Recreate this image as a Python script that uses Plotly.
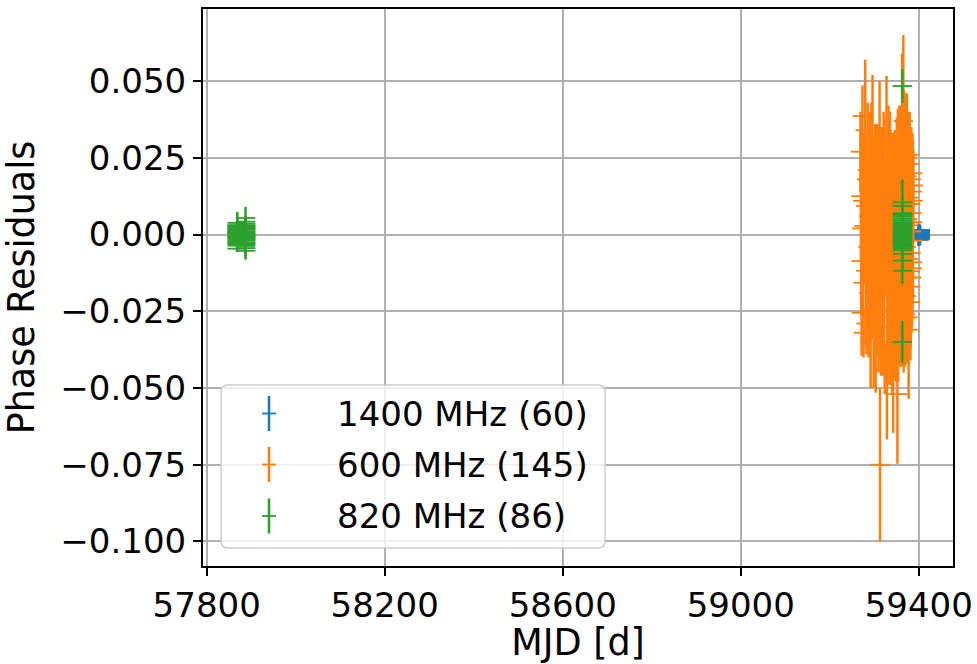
import plotly.graph_objects as go

# ---------------------------------------------------------------------------
# Timing residuals (phase) per observing band
# ---------------------------------------------------------------------------

# 1400 MHz TOAs
blue_mjd = [
    59399.4, 59399.4, 59399.4, 59399.4, 59399.4, 59399.4, 59399.4, 59399.4, 59399.4, 59399.4,
    59400.1, 59400.1, 59400.1, 59400.1, 59400.1, 59400.1, 59400.1, 59400.1, 59400.1, 59400.1,
    59400.8, 59400.8, 59400.8, 59400.8, 59400.8, 59400.8, 59400.8, 59400.8, 59400.8, 59400.8,
    59401.5, 59401.5, 59401.5, 59401.5, 59401.5, 59401.5, 59401.5, 59401.5, 59401.5, 59401.5,
    59402.2, 59402.2, 59402.2, 59402.2, 59402.2, 59402.2, 59402.2, 59402.2, 59402.2, 59402.2,
    59402.9, 59402.9, 59402.9, 59402.9, 59402.9, 59402.9, 59402.9, 59402.9, 59402.9, 59402.9,
]
blue_res = [
    0.0012, -0.0004, 0.0007, -0.0013, 0.0002, -0.0008, 0.0015, -0.0001, 0.0005, -0.0017,
    -0.0006, 0.0010, -0.0011, 0.0003, 0.0013, -0.0015, 0.0000, 0.0008, -0.0003, 0.0006,
    0.0004, -0.0009, 0.0011, -0.0002, -0.0014, 0.0009, 0.0001, -0.0007, 0.0014, -0.0005,
    -0.0012, 0.0006, -0.0001, 0.0013, -0.0008, 0.0002, -0.0016, 0.0010, -0.0004, 0.0007,
    0.0009, -0.0003, -0.0013, 0.0005, 0.0015, -0.0010, 0.0003, -0.0006, 0.0011, -0.0002,
    -0.0007, 0.0012, 0.0000, -0.0011, 0.0008, -0.0015, 0.0004, 0.0014, -0.0005, 0.0001,
]
blue_err = [
    0.0015, 0.0011, 0.0013, 0.0018, 0.0010, 0.0014, 0.0020, 0.0012, 0.0016, 0.0019,
    0.0013, 0.0017, 0.0012, 0.0010, 0.0016, 0.0021, 0.0011, 0.0014, 0.0013, 0.0015,
    0.0012, 0.0014, 0.0018, 0.0011, 0.0019, 0.0013, 0.0010, 0.0016, 0.0017, 0.0012,
    0.0016, 0.0013, 0.0011, 0.0015, 0.0012, 0.0018, 0.0020, 0.0014, 0.0010, 0.0017,
    0.0014, 0.0012, 0.0019, 0.0011, 0.0018, 0.0015, 0.0013, 0.0017, 0.0010, 0.0016,
    0.0011, 0.0019, 0.0015, 0.0013, 0.0012, 0.0020, 0.0016, 0.0018, 0.0014, 0.0010,
]

# 600 MHz TOAs
orange_mjd = [
    59269.1, 59270.0, 59270.7, 59271.5, 59272.3,
    59273.6, 59274.5, 59275.3, 59276.0, 59276.9,
    59279.8, 59280.7, 59281.5, 59282.4, 59283.2,
    59285.3, 59286.1, 59287.0, 59287.8, 59288.7,
    59291.0, 59291.9, 59292.7, 59293.6, 59294.4,
    59296.2, 59297.0, 59297.9, 59298.7, 59299.6,
    59302.3, 59303.2, 59304.1, 59304.9, 59305.7,
    59307.0, 59307.9, 59308.7, 59309.6, 59310.4,
    59313.0, 59312.1, 59313.8, 59314.6, 59315.4,
    59316.3, 59317.1, 59318.0, 59318.8, 59319.7,
    59321.0, 59321.8, 59322.7, 59323.5, 59324.4,
    59327.6, 59328.5, 59329.3, 59330.2, 59331.0,
    59332.2, 59333.0, 59333.9, 59334.7, 59335.5,
    59336.6, 59337.4, 59338.3, 59339.1, 59340.0,
    59342.6, 59341.2, 59343.4, 59344.2, 59345.1,
    59346.0, 59346.8, 59347.6, 59348.5, 59349.3,
    59352.1, 59350.6, 59351.4, 59353.0, 59353.8,
    59354.6, 59355.4, 59356.2, 59357.0, 59357.8,
    59358.5, 59359.3, 59360.1, 59360.9, 59361.7,
    59362.6, 59362.2, 59363.3, 59364.0, 59363.7,
    59365.4, 59364.8, 59366.1, 59366.7, 59365.9,
    59367.5, 59368.3, 59369.0, 59369.8, 59368.7,
    59370.5, 59371.3, 59372.0, 59372.8, 59371.7,
    59373.5, 59374.3, 59375.0, 59375.8, 59374.7,
    59377.3, 59376.6, 59378.0, 59378.7, 59377.0,
    59379.2, 59380.0, 59380.7, 59381.4, 59379.6,
    59382.0, 59382.7, 59383.3, 59381.7, 59383.8,
    59384.3, 59384.9, 59385.5, 59384.0, 59386.0,
    59386.4, 59386.9, 59387.3, 59385.8, 59387.7,
]
orange_res = [
    0.027, 0.0125, -0.0086, -0.0255, 0.002,
    0.0386, 0.011, -0.0157, -0.032, 0.0028,
    0.034, 0.0093, -0.0118, -0.029, 0.018,
    0.021, -0.004, -0.019, 0.006, -0.032,
    0.016, -0.027, -0.002, 0.029, -0.013,
    0.027, -0.008, 0.010, -0.024, -0.001,
    0.010, -0.024, 0.020, -0.006, 0.003,
    0.012, -0.014, 0.001, -0.030, 0.008,
    -0.075, 0.022, -0.011, 0.004, -0.025,
    0.012, -0.018, 0.024, -0.003, -0.036,
    0.009, -0.016, 0.022, -0.044, 0.002,
    0.022, -0.036, -0.005, 0.011, -0.019,
    0.017, -0.010, -0.027, 0.005, 0.028,
    0.008, -0.021, -0.002, 0.020, -0.040,
    -0.035, 0.006, 0.018, -0.012, 0.001,
    0.010, -0.017, -0.004, 0.020, -0.030,
    -0.052, 0.010, -0.009, 0.020, -0.023,
    0.006, -0.015, 0.027, -0.001, -0.030,
    0.016, -0.006, -0.021, 0.009, 0.002,
    0.031, -0.011, 0.012, -0.020, 0.004,
    0.037, 0.003, -0.018, 0.016, -0.007,
    0.021, -0.013, 0.007, -0.026, 0.030,
    0.014, -0.004, -0.020, 0.025, 0.001,
    0.019, -0.014, 0.005, -0.027, 0.010,
    -0.031, 0.012, -0.008, 0.023, 0.003,
    0.016, -0.012, 0.004, -0.022, 0.026,
    0.010, -0.006, 0.018, -0.017, 0.001,
    0.007, -0.009, 0.014, -0.014, 0.020,
    0.004, -0.002, 0.011, -0.011, 0.016,
]
orange_err = [
    0.013, 0.021, 0.018, 0.014, 0.024,
    0.010, 0.022, 0.020, 0.008, 0.019,
    0.023, 0.019, 0.025, 0.010, 0.015,
    0.022, 0.027, 0.021, 0.018, 0.007,
    0.024, 0.023, 0.029, 0.014, 0.021,
    0.025, 0.024, 0.022, 0.026, 0.031,
    0.026, 0.0275, 0.016, 0.023, 0.019,
    0.024, 0.026, 0.034, 0.015, 0.021,
    0.025, 0.028, 0.030, 0.023, 0.021,
    0.023, 0.027, 0.011, 0.029, 0.010,
    0.031, 0.029, 0.016, 0.008, 0.022,
    0.0297, 0.0308, 0.026, 0.020, 0.024,
    0.025, 0.033, 0.022, 0.028, 0.012,
    0.026, 0.028, 0.025, 0.013, 0.012,
    0.0296, 0.027, 0.015, 0.026, 0.023,
    0.024, 0.030, 0.027, 0.013, 0.018,
    0.0227, 0.028, 0.029, 0.021, 0.025,
    0.030, 0.028, 0.015, 0.025, 0.013,
    0.026, 0.031, 0.022, 0.024, 0.019,
    0.028, 0.027, 0.025, 0.023, 0.031,
    0.028, 0.030, 0.027, 0.022, 0.024,
    0.026, 0.029, 0.027, 0.017, 0.016,
    0.030, 0.028, 0.022, 0.019, 0.022,
    0.027, 0.028, 0.026, 0.015, 0.021,
    0.0225, 0.026, 0.027, 0.017, 0.024,
    0.024, 0.026, 0.022, 0.019, 0.012,
    0.022, 0.023, 0.017, 0.020, 0.019,
    0.020, 0.021, 0.016, 0.018, 0.013,
    0.018, 0.019, 0.015, 0.016, 0.012,
]

# 820 MHz TOAs
green_mjd = [
    57868.7, 57868.7, 57868.7, 57868.7, 57868.7, 57868.7, 57868.7, 57868.7,
    57868.7, 57868.7, 57868.7, 57868.7, 57868.7, 57868.7, 57868.7, 57868.7,
    57868.7, 57868.7, 57868.7, 57868.7, 57868.7, 57868.7, 57868.7, 57868.7,
    57887.3, 57887.3, 57887.3, 57887.3, 57887.3, 57887.3, 57887.3, 57887.3, 57887.3,
    57887.3, 57887.3, 57887.3, 57887.3, 57887.3, 57887.3, 57887.3, 57887.3, 57887.3,
    57887.3, 57887.3, 57887.3, 57887.3, 57887.3, 57887.3, 57887.3, 57887.3,
    59363.2, 59363.2, 59363.2, 59363.2, 59363.2, 59363.2, 59363.2, 59363.2, 59363.2,
    59363.2, 59363.2, 59363.2, 59363.2, 59363.2, 59363.2, 59363.2, 59363.2, 59363.2,
    59364.0, 59364.0, 59364.0, 59364.0, 59364.0, 59364.0, 59364.0, 59364.0, 59364.0,
    59364.0, 59364.0, 59364.0, 59364.0, 59364.0, 59364.0, 59364.0, 59364.0, 59364.0,
]
green_res = [
    0.0038, 0.0028, 0.0006, -0.0027, -0.0046, 0.0012, -0.0008, 0.0021,
    -0.0015, 0.0004, -0.0031, 0.0017, -0.0004, 0.0009, -0.0019, 0.0025,
    -0.0011, 0.0031, -0.0024, 0.0002, 0.0014, -0.0006, -0.0036, 0.0007,
    0.0054, 0.0028, -0.0004, -0.0037, -0.0053, 0.0016, -0.0012, 0.0035, -0.0025,
    0.0008, -0.0019, 0.0042, 0.0001, -0.0031, 0.0022, -0.0007, 0.0011, -0.0044,
    0.0030, -0.0016, 0.0005, 0.0019, -0.0028, -0.0002, 0.0025, -0.0010,
    0.0484, -0.0350, -0.0118, -0.0085, 0.0105, 0.0093, 0.0070, 0.0060, 0.0045,
    0.0032, 0.0024, 0.0015, 0.0008, 0.0001, -0.0006, -0.0012, -0.0020, -0.0028,
    -0.0037, -0.0045, -0.0063, 0.0038, 0.0012, -0.0003, 0.0027, -0.0016, 0.0052,
    -0.0033, 0.0019, -0.0009, 0.0065, -0.0024, 0.0035, -0.0051, 0.0004, -0.0040,
]
green_err = [
    0.0036, 0.0030, 0.0025, 0.0029, 0.0010, 0.0022, 0.0026, 0.0019,
    0.0024, 0.0031, 0.0021, 0.0028, 0.0018, 0.0023, 0.0027, 0.0016,
    0.0020, 0.0024, 0.0017, 0.0029, 0.0021, 0.0023, 0.0015, 0.0019,
    0.0036, 0.0031, 0.0027, 0.0045, 0.0018, 0.0025, 0.0030, 0.0022, 0.0023,
    0.0034, 0.0028, 0.0019, 0.0024, 0.0020, 0.0029, 0.0021, 0.0026, 0.0016,
    0.0017, 0.0033, 0.0020, 0.0023, 0.0026, 0.0032, 0.0021, 0.0018,
    0.0055, 0.0068, 0.0042, 0.0030, 0.0075, 0.0030, 0.0025, 0.0035, 0.0028,
    0.0022, 0.0030, 0.0018, 0.0026, 0.0020, 0.0024, 0.0017, 0.0029, 0.0021,
    0.0025, 0.0019, 0.0022, 0.0016, 0.0032, 0.0015, 0.0019, 0.0022, 0.0021,
    0.0018, 0.0024, 0.0027, 0.0020, 0.0016, 0.0025, 0.0020, 0.0023, 0.0015,
]

series = [
    ("1400 MHz (60)", "#1f77b4", blue_mjd, blue_res, blue_err),
    ("600 MHz (145)", "#ff7f0e", orange_mjd, orange_res, orange_err),
    ("820 MHz (86)", "#2ca02c", green_mjd, green_res, green_err),
]

x_ticks = [57800, 58200, 58600, 59000, 59400]
y_ticks = [-0.100, -0.075, -0.050, -0.025, 0.000, 0.025, 0.050]

FONT = "DejaVu Sans"
FS_TICK = 34
FS_TITLE = 36.5
FS_LEG = 34
W, H = 977, 664
ML, MR, MT, MB = 203, 24, 9, 98

fig = go.Figure()
for name, color, mjd, res, err in series:
    fig.add_trace(go.Scatter(
        x=mjd, y=res, name=name, mode="markers", showlegend=False,
        marker=dict(symbol="line-ew", size=14, color=color,
                    line=dict(color=color, width=1.8)),
        error_y=dict(type="data", array=err, visible=True,
                     thickness=2.5, width=0, color=color),
    ))

axis_common = dict(
    showgrid=True, gridcolor="#b0b0b0", gridwidth=2,
    showline=True, linecolor="black", linewidth=2, mirror=True,
    ticks="outside", ticklen=8, tickwidth=2, tickcolor="black",
    tickfont=dict(family=FONT, size=FS_TICK, color="black"),
    zeroline=False,
)

fig.update_layout(
    width=W, height=H,
    margin=dict(l=ML, r=MR, t=MT, b=MB, autoexpand=False),
    plot_bgcolor="white", paper_bgcolor="white",
    font=dict(family=FONT, size=FS_TICK, color="black"),
    xaxis=dict(range=[57791.7, 59477], tickvals=x_ticks, tickformat="d",
               title=dict(text="MJD [d]", font=dict(family=FONT, size=FS_TITLE), standoff=2),
               **axis_common),
    yaxis=dict(range=[-0.108, 0.0735], tickvals=y_ticks, tickformat=".3f",
               title=dict(text="Phase Residuals", font=dict(family=FONT, size=FS_TITLE), standoff=16),
               **axis_common),
)

# Legend panel, laid out in pixels and converted to paper coordinates
PW, PH = W - ML - MR, H - MT - MB


def px(xp):
    return (xp - ML) / PW


def py(yp):
    return (H - MB - yp) / PH


def rounded_box(x0, y0, x1, y1, r):
    rx, ry = r / PW, r / PH
    a0, a1 = px(x0), px(x1)
    b0, b1 = py(y1), py(y0)  # bottom, top
    return (f"M {a0 + rx},{b0} L {a1 - rx},{b0} Q {a1},{b0} {a1},{b0 + ry} "
            f"L {a1},{b1 - ry} Q {a1},{b1} {a1 - rx},{b1} "
            f"L {a0 + rx},{b1} Q {a0},{b1} {a0},{b1 - ry} "
            f"L {a0},{b0 + ry} Q {a0},{b0} {a0 + rx},{b0} Z")


fig.add_shape(type="path", xref="paper", yref="paper",
              path=rounded_box(221, 385, 605, 548, 7),
              fillcolor="rgba(255,255,255,0.8)",
              line=dict(color="#cccccc", width=1.5), layer="above")

sym_x, text_x = 269, 335
row_y = [413.5, 464.5, 516.0]
for (name, color, *_), yc in zip(series, row_y):
    fig.add_shape(type="line", xref="paper", yref="paper",
                  x0=px(sym_x), x1=px(sym_x), y0=py(yc - 17.5), y1=py(yc + 17.5),
                  line=dict(color=color, width=2.5), layer="above")
    fig.add_shape(type="line", xref="paper", yref="paper",
                  x0=px(sym_x - 7), x1=px(sym_x + 7), y0=py(yc), y1=py(yc),
                  line=dict(color=color, width=1.8), layer="above")
    fig.add_annotation(text=name, xref="paper", yref="paper",
                       x=px(text_x), y=py(yc), xanchor="left", yanchor="middle",
                       showarrow=False, font=dict(family=FONT, size=FS_LEG, color="black"))

fig.write_html("out.html")
